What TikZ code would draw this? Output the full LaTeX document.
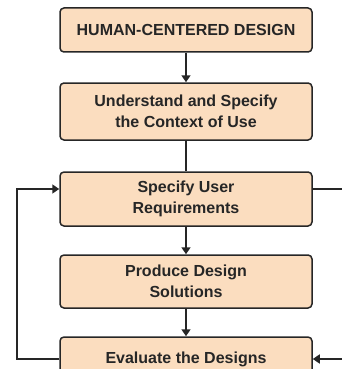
\documentclass[tikz,border=0pt]{standalone}
\usepackage{fontspec}
\setmainfont{Liberation Sans}
\usetikzlibrary{arrows.meta}

\definecolor{peach}{HTML}{FBDDBF}
\definecolor{ink}{HTML}{262626}

\tikzset{
  stage/.style={draw=ink, line width=1.5pt, fill=peach, rounded corners=4pt,
    minimum width=252pt, align=center, text=ink,
    font=\fontsize{16}{21}\selectfont\bfseries},
  link/.style={draw=ink, line width=1.6pt},
  flow/.style={link, -{Triangle[width=9pt,length=7pt]}}
}

\begin{document}
\begin{tikzpicture}[x=1pt,y=-1pt]
  \clip (0,0) rectangle (342,369);
  \node[stage, minimum height=44pt] (hcd) at (186,30) {HUMAN-CENTERED DESIGN};
  \node[stage, minimum height=57pt] (ctx) at (186,111.5) {Understand and Specify\\ the Context of Use};
  \node[stage, minimum height=54pt] (req) at (186,199) {Specify User\\Requirements};
  \node[stage, minimum height=53pt] (sol) at (186,281.5) {Produce Design\\Solutions};
  \node[stage, minimum height=44pt] (eval) at (186,359) {Evaluate the Designs};

  \draw[flow] (hcd) -- (ctx);
  \draw[link] (ctx) -- (req);
  \draw[flow] (req) -- (sol);
  \draw[flow] (sol) -- (eval);

  % feedback loop round the left side
  \draw[flow] (eval.west) -- ++(-42,0) |- ([yshift=10pt]req.west);
  % lines leaving to the right
  \coordinate (out) at (345,189);
  \coordinate (in) at (345,359);
  \draw[link] ([yshift=10pt]req.east) -- (out);
  \draw[flow] (in) -- (eval.east);
\end{tikzpicture}
\end{document}
